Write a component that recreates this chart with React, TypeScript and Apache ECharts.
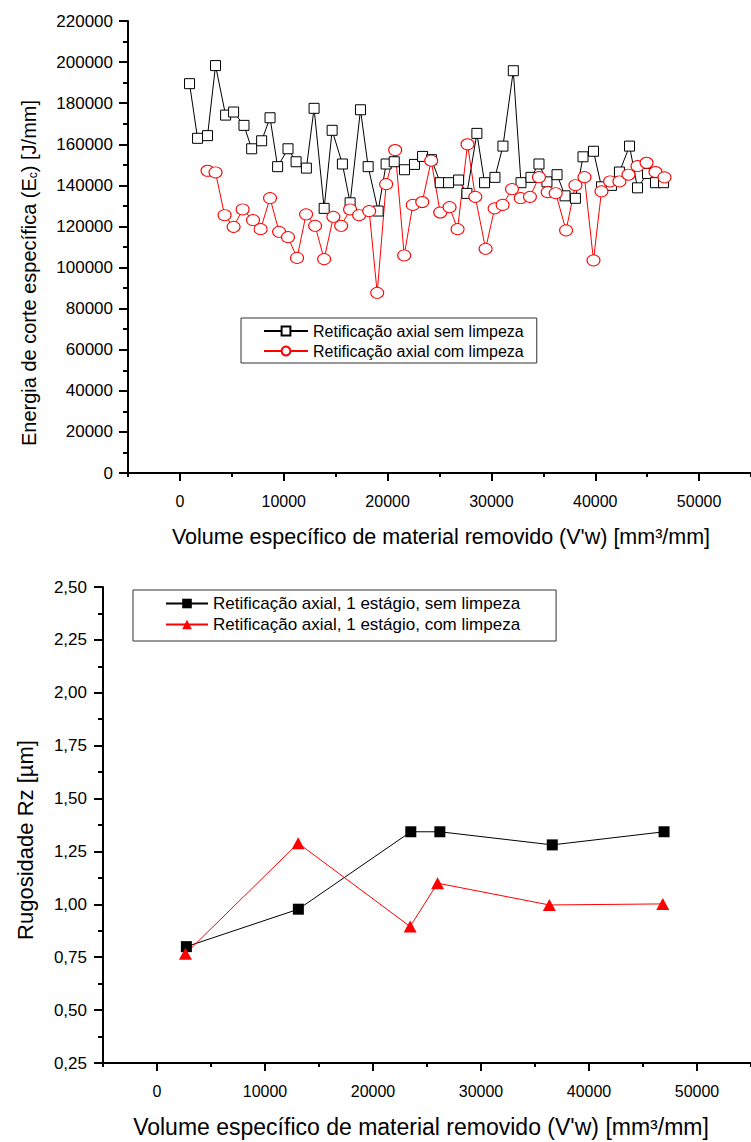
import React, { useEffect, useRef } from "react";
import * as echarts from "echarts";

// ---------- Top chart data (Energia de corte específica) ----------
const semLimpezaX = [926, 1700, 2660, 3430, 4400, 5170, 6170, 6910, 7870, 8680, 9410, 10410, 11190, 12180, 12920, 13890, 14660, 15650, 16390, 17390, 18130, 19090, 19860, 20640, 21630, 22590, 23370, 24230, 25070, 25870, 26840, 27640, 28600, 29340, 30340, 31110, 32110, 32850, 33810, 34580, 35350, 36320, 37090, 38090, 38820, 39830, 40600, 41560, 42330, 43300, 44070, 45030, 45800, 46580];
const semLimpezaY = [189500, 162900, 164200, 198300, 174200, 175700, 169200, 157800, 161700, 172900, 149100, 157800, 151500, 148400, 177500, 128800, 166800, 150400, 131500, 176800, 149100, 127500, 150400, 151500, 147600, 150200, 154100, 152500, 141300, 141300, 142600, 136100, 165300, 141300, 143900, 159100, 195800, 141300, 143900, 150400, 141700, 145200, 134900, 133700, 153900, 156600, 139300, 140000, 146500, 159100, 138800, 145800, 141300, 141300];

const comLimpezaX = [2660, 3430, 4300, 5170, 6040, 7040, 7770, 8680, 9550, 10410, 11280, 12150, 13020, 13890, 14780, 15530, 16390, 17260, 18230, 19000, 19860, 20730, 21600, 22430, 23340, 24200, 25070, 25970, 26740, 27700, 28450, 29440, 30310, 31080, 31980, 32820, 33710, 34580, 35420, 36190, 37190, 38090, 38960, 39830, 40600, 41430, 42330, 43200, 44070, 44940, 45800, 46670];
const comLimpezaY = [147100, 146300, 125500, 119800, 128300, 123100, 118700, 133800, 117400, 114800, 104700, 125900, 120300, 104100, 124700, 120300, 128300, 125500, 127500, 87700, 140600, 157200, 105900, 130500, 131900, 152000, 126800, 129400, 118700, 160000, 134400, 109100, 128800, 130500, 138200, 133800, 134400, 144000, 136700, 136200, 118100, 140100, 144000, 103500, 137100, 141900, 141900, 145200, 149400, 151000, 146500, 143900];

// ---------- Bottom chart data (Rugosidade Rz) ----------
const rzSemX = [2720, 13090, 23500, 26190, 36600, 46950];
const rzSemY = [0.8, 0.977, 1.343, 1.343, 1.281, 1.343];
const rzComX = [2630, 13070, 23440, 25980, 36330, 46830];
const rzComY = [0.766, 1.289, 0.895, 1.1, 0.997, 1.002];

// ---------- Tick values ----------
const xMajorTicks = [0, 10000, 20000, 30000, 40000, 50000];
const xMinorTicks = [-5000, 5000, 15000, 25000, 35000, 45000, 55000];

const topLegendNames = ["Retificação axial sem limpeza", "Retificação axial com limpeza"];
const bottomLegendNames = ["Retificação axial, 1 estágio, sem limpeza", "Retificação axial, 1 estágio, com limpeza"];

const FONT = "'Liberation Sans', Arial, sans-serif";

const zip = (xs: number[], ys: number[]) => xs.map((x, i) => [x, ys[i]]);

export default function App() {
  const ref = useRef<HTMLDivElement>(null);

  useEffect(() => {
    if (!ref.current) return;
    const chart = echarts.init(ref.current, undefined, { renderer: "svg" });

    const axisLine = { show: true, onZero: false, lineStyle: { color: "#000", width: 2 } };

    const mainX = (gridIndex: number) => ({
      type: "value",
      gridIndex,
      min: -5000,
      max: 55000,
      axisLine,
      splitLine: { show: false },
      axisTick: { show: true, length: 8, customValues: xMajorTicks, lineStyle: { color: "#000", width: 2 } },
      axisLabel: {
        customValues: xMajorTicks,
        color: "#000",
        fontFamily: FONT,
        fontSize: 16,
        margin: 20,
        formatter: (v: number) => String(v),
      },
    });
    const minorX = (gridIndex: number) => ({
      type: "value",
      gridIndex,
      min: -5000,
      max: 55000,
      position: "bottom",
      axisLine: { show: false, onZero: false },
      splitLine: { show: false },
      axisTick: { show: true, length: 4, customValues: xMinorTicks, lineStyle: { color: "#000", width: 2 } },
      axisLabel: { show: false },
    });

    const option: any = {
      animation: false,
      backgroundColor: "#fff",
      grid: [
        { left: 128, right: 0, top: 21, height: 452 },
        { left: 103, right: -7, top: 587, height: 476 },
      ],
      xAxis: [mainX(0), minorX(0), mainX(1), minorX(1)],
      yAxis: [
        {
          type: "value",
          gridIndex: 0,
          min: 0,
          max: 220000,
          interval: 20000,
          axisLine,
          splitLine: { show: false },
          axisTick: { show: true, length: 9, lineStyle: { color: "#000", width: 2 } },
          minorTick: { show: true, splitNumber: 2, length: 5, lineStyle: { color: "#000", width: 2 } },
          axisLabel: { color: "#000", fontFamily: FONT, fontSize: 17, margin: 15, formatter: (v: number) => String(v) },
        },
        {
          type: "value",
          gridIndex: 1,
          min: 0.25,
          max: 2.5,
          interval: 0.25,
          axisLine,
          splitLine: { show: false },
          axisTick: { show: true, length: 9, lineStyle: { color: "#000", width: 2 } },
          minorTick: { show: true, splitNumber: 2, length: 5, lineStyle: { color: "#000", width: 2 } },
          axisLabel: {
            color: "#000",
            fontFamily: FONT,
            fontSize: 17,
            margin: 16,
            formatter: (v: number) => v.toFixed(2).replace(".", ","),
          },
        },
      ],
      legend: [
        {
          data: topLegendNames,
          orient: "vertical",
          left: 241,
          top: 318,
          itemWidth: 44,
          itemHeight: 11,
          itemGap: 4,
          padding: [5, 13, 4, 22],
          borderColor: "#333",
          borderWidth: 1,
          textStyle: { color: "#000", fontFamily: FONT, fontSize: 16, lineHeight: 16 },
        },
        {
          data: bottomLegendNames,
          orient: "vertical",
          left: 133,
          top: 590,
          itemWidth: 42,
          itemHeight: 12,
          itemGap: 4,
          padding: [5, 36, 8, 32],
          borderColor: "#333",
          borderWidth: 1,
          textStyle: { color: "#000", fontFamily: FONT, fontSize: 17, lineHeight: 17 },
        },
      ],
      series: [
        {
          name: topLegendNames[0],
          type: "line",
          xAxisIndex: 0,
          yAxisIndex: 0,
          data: zip(semLimpezaX, semLimpezaY),
          symbol: "rect",
          symbolSize: 10,
          showAllSymbol: true,
          lineStyle: { color: "#000", width: 1 },
          itemStyle: { color: "#fff", borderColor: "#000", borderWidth: 1 },
        },
        {
          name: topLegendNames[1],
          type: "line",
          xAxisIndex: 0,
          yAxisIndex: 0,
          data: zip(comLimpezaX, comLimpezaY),
          symbol: "circle",
          symbolSize: [13, 11],
          showAllSymbol: true,
          lineStyle: { color: "#ff0000", width: 1 },
          itemStyle: { color: "#fff", borderColor: "#ff0000", borderWidth: 1 },
        },
        {
          name: bottomLegendNames[0],
          type: "line",
          xAxisIndex: 2,
          yAxisIndex: 1,
          data: zip(rzSemX, rzSemY),
          symbol: "rect",
          symbolSize: 11,
          lineStyle: { color: "#000", width: 1 },
          itemStyle: { color: "#000" },
        },
        {
          name: bottomLegendNames[1],
          type: "line",
          xAxisIndex: 2,
          yAxisIndex: 1,
          data: zip(rzComX, rzComY),
          symbol: "triangle",
          symbolSize: [13, 12],
          lineStyle: { color: "#ff0000", width: 1 },
          itemStyle: { color: "#ff0000" },
        },
      ],
      graphic: [
        {
          type: "text",
          x: 29,
          y: 273,
          rotation: Math.PI / 2,
          style: {
            text: "Energia de corte específica (E{s|c}) [J/mm]",
            fontFamily: FONT,
            fontSize: 20,
            fill: "#000",
            align: "center",
            verticalAlign: "middle",
            rich: {
              s: { fontSize: 12, fontFamily: FONT, fill: "#000", verticalAlign: "bottom", lineHeight: 12 },
            },
          },
        },
        {
          type: "text",
          x: 441,
          y: 537,
          style: {
            text: "Volume específico de material removido (V'w) [mm³/mm]",
            fontFamily: FONT,
            fontSize: 21.5,
            fill: "#000",
            align: "center",
            verticalAlign: "middle",
          },
        },
        {
          type: "text",
          x: 25,
          y: 840,
          rotation: Math.PI / 2,
          style: {
            text: "Rugosidade Rz [µm]",
            fontFamily: FONT,
            fontSize: 22,
            fill: "#000",
            align: "center",
            verticalAlign: "middle",
          },
        },
        {
          type: "text",
          x: 421,
          y: 1127,
          style: {
            text: "Volume específico de material removido (V'w) [mm³/mm]",
            fontFamily: FONT,
            fontSize: 23,
            fill: "#000",
            align: "center",
            verticalAlign: "middle",
          },
        },
      ],
    };

    chart.setOption(option);
    return () => chart.dispose();
  }, []);

  return (
    <div
      ref={ref}
      style={{ position: "absolute", left: 0, top: 0, width: 751, height: 1142, background: "#fff" }}
    />
  );
}
